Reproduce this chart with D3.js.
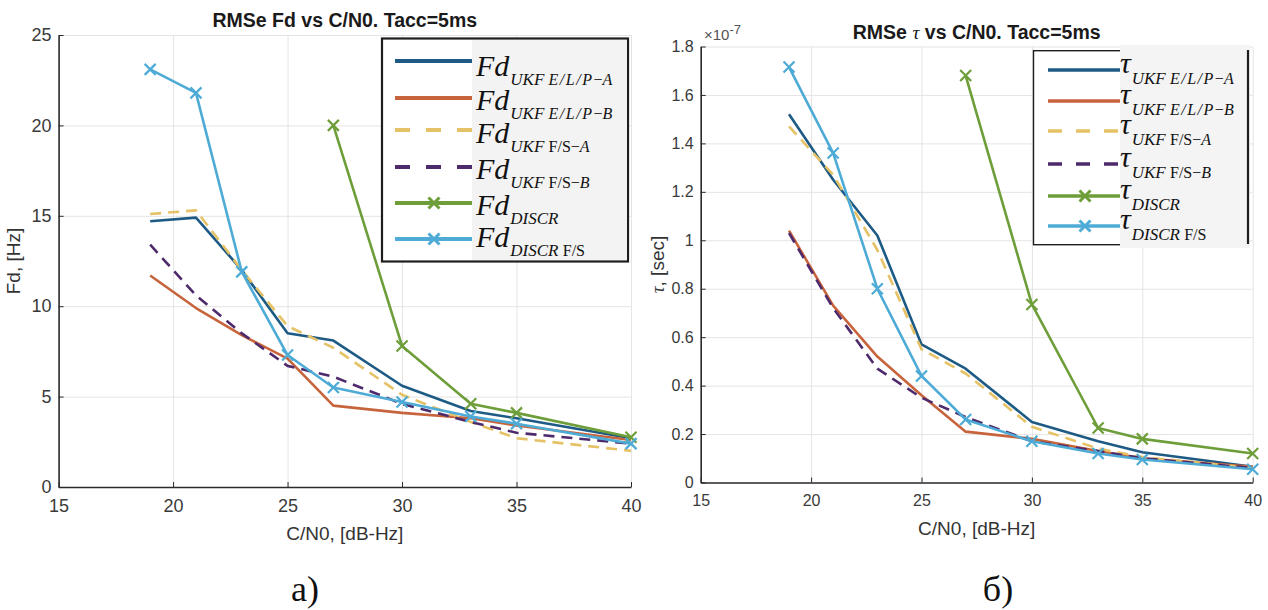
<!DOCTYPE html>
<html>
<head>
<meta charset="utf-8">
<script src="https://cdn.jsdelivr.net/npm/d3@7"></script>
<style>
  body { margin: 0; background: #fff; }
  svg { display: block; }
  .tick text { fill: #3a3a3a; font-family: "Liberation Sans", Arial, sans-serif; }
</style>
</head>
<body>
<svg id="chart" width="1268" height="610"></svg>
<script>
// C/N0 points, dB-Hz
const snr = [19, 21, 23, 25, 27, 30, 33, 35, 40];
const snrDiscr = [27, 30, 33, 35, 40];

// Doppler RMSE, Hz
const fdUkfElpA = [14.7, 14.9, 12.0, 8.5, 8.1, 5.6, 4.2, 3.8, 2.7];
const fdUkfElpB = [11.7, 9.9, 8.4, 7.1, 4.5, 4.1, 3.8, 3.4, 2.6];
const fdUkfFsA  = [15.1, 15.3, 12.0, 8.9, 7.7, 5.1, 3.6, 2.7, 2.0];
const fdUkfFsB  = [13.4, 10.6, 8.5, 6.7, 6.1, 4.6, 3.6, 3.0, 2.4];
const fdDiscr   = [20.0, 7.8, 4.6, 4.1, 2.75];
const fdDiscrFs = [23.1, 21.8, 11.9, 7.3, 5.5, 4.7, 3.9, 3.5, 2.4];

// Code delay RMSE, x1e-7 s
const tauUkfElpA = [1.52, 1.25, 1.02, 0.57, 0.47, 0.25, 0.17, 0.125, 0.065];
const tauUkfElpB = [1.04, 0.73, 0.52, 0.36, 0.21, 0.18, 0.13, 0.10, 0.065];
const tauUkfFsA  = [1.47, 1.27, 0.96, 0.55, 0.45, 0.23, 0.14, 0.105, 0.06];
const tauUkfFsB  = [1.03, 0.72, 0.47, 0.35, 0.27, 0.17, 0.13, 0.10, 0.06];
const tauDiscr   = [1.68, 0.735, 0.225, 0.18, 0.12];
const tauDiscrFs = [1.715, 1.36, 0.80, 0.44, 0.26, 0.17, 0.12, 0.095, 0.055];

const xTicks = [15, 20, 25, 30, 35, 40];
const fdTicks = [0, 5, 10, 15, 20, 25];
const tauTicks = [0, 0.2, 0.4, 0.6, 0.8, 1, 1.2, 1.4, 1.6, 1.8];

const colors = {
  elpA: "#1d5a84",
  elpB: "#c8643c",
  fsA: "#e6c266",
  fsB: "#4d2a6c",
  discr: "#6e9e3a",
  discrFs: "#4dabd6"
};

const svg = d3.select("#chart");
const FONT = "'Liberation Sans', Arial, sans-serif";
const SERIF = "'Liberation Serif', 'Times New Roman', serif";

function xMark(g, x, y, r, color, w) {
  g.append("path")
    .attr("d", `M${x - r},${y - r}L${x + r},${y + r}M${x - r},${y + r}L${x + r},${y - r}`)
    .attr("stroke", color).attr("stroke-width", w).attr("fill", "none");
}

function drawPanel(cfg) {
  const g = svg.append("g");
  const x = d3.scaleLinear().domain([15, 40]).range([cfg.left, cfg.right]);
  const y = d3.scaleLinear().domain(cfg.yDomain).range([cfg.bottom, cfg.top]);
  const w = cfg.right - cfg.left, h = cfg.bottom - cfg.top;

  // grid
  g.append("g").attr("transform", `translate(0,${cfg.bottom})`)
    .call(d3.axisBottom(x).tickValues(xTicks).tickSize(-h).tickFormat(""))
    .call(a => a.select(".domain").remove())
    .selectAll("line").attr("stroke", "#e4e4e4").attr("stroke-width", 1);
  g.append("g").attr("transform", `translate(${cfg.left},0)`)
    .call(d3.axisLeft(y).tickValues(cfg.yTicks).tickSize(-w).tickFormat(""))
    .call(a => a.select(".domain").remove())
    .selectAll("line").attr("stroke", "#e4e4e4").attr("stroke-width", 1);

  // series
  const line = d3.line().x(d => x(d[0])).y(d => y(d[1]));
  cfg.series.forEach(s => {
    const pts = s.xs.map((v, i) => [v, s.ys[i]]);
    g.append("path").datum(pts)
      .attr("d", line)
      .attr("fill", "none")
      .attr("stroke", s.color)
      .attr("stroke-width", 2.6)
      .attr("stroke-linejoin", "round")
      .attr("stroke-dasharray", s.dash || null);
    if (s.marker) pts.forEach(p => xMark(g, x(p[0]), y(p[1]), 5.5, s.color, 2.2));
  });

  // axes
  const ax = g.append("g").attr("transform", `translate(0,${cfg.bottom})`)
    .call(d3.axisBottom(x).tickValues(xTicks).tickSizeInner(-5).tickSizeOuter(0).tickPadding(12));
  ax.selectAll("text").attr("font-size", cfg.tickSize).attr("font-family", FONT);
  const ay = g.append("g").attr("transform", `translate(${cfg.left},0)`)
    .call(d3.axisLeft(y).tickValues(cfg.yTicks).tickSizeInner(-5).tickSizeOuter(0).tickPadding(7)
      .tickFormat(d3.format("~g")));
  ay.selectAll("text").attr("font-size", cfg.tickSize).attr("font-family", FONT);
  [ax, ay].forEach(a => {
    a.select(".domain").attr("stroke", "#2b2b2b").attr("stroke-width", 1.6);
    a.selectAll(".tick line").attr("stroke", "#2b2b2b");
  });

  // title
  const t = g.append("text")
    .attr("x", (cfg.left + cfg.right) / 2).attr("y", cfg.titleY)
    .attr("text-anchor", "middle").attr("font-family", FONT)
    .attr("font-size", 19.5).attr("font-weight", "bold").attr("fill", "#1a1a1a");
  cfg.title.forEach(p => t.append("tspan").text(p.t)
    .attr("font-style", p.i ? "italic" : null)
    .attr("font-weight", p.i ? "normal" : null)
    .attr("font-family", p.i ? SERIF : null));

  // axis labels
  g.append("text")
    .attr("x", (cfg.left + cfg.right) / 2).attr("y", cfg.xLabelY)
    .attr("text-anchor", "middle").attr("font-family", FONT)
    .attr("font-size", 19).attr("fill", "#333").text("C/N0, [dB-Hz]");
  const yl = g.append("text")
    .attr("transform", `translate(${cfg.yLabelX},${(cfg.top + cfg.bottom) / 2}) rotate(-90)`)
    .attr("text-anchor", "middle").attr("font-family", FONT)
    .attr("font-size", 19).attr("fill", "#333");
  cfg.yLabel.forEach(p => yl.append("tspan").text(p.t)
    .attr("font-style", p.i ? "italic" : null)
    .attr("font-family", p.i ? SERIF : null));

  // panel caption
  svg.append("text")
    .attr("x", cfg.captionX).attr("y", 601)
    .attr("text-anchor", "middle").attr("font-family", SERIF)
    .attr("font-size", 36).attr("fill", "#111").text(cfg.caption);

  return { g, x, y };
}

// legend entry text: main symbol + subscript parts
function legendText(g, x, yBase, main, mainSize, subDy, parts) {
  const t = g.append("text").attr("x", x).attr("y", yBase)
    .attr("font-family", SERIF).attr("fill", "#111");
  t.append("tspan").text(main).attr("font-style", "italic").attr("font-size", mainSize);
  parts.forEach((p, i) => {
    const ts = t.append("tspan").text(p.t)
      .attr("font-size", p.s)
      .attr("letter-spacing", p.ls || null)
      .attr("font-style", p.i ? "italic" : "normal");
    if (i === 0) ts.attr("dy", subDy).attr("dx", 1);
  });
}

const legendSubs = [
  [{ t: "UKF ", i: true, s: 17 }, { t: "E/L/P", i: true, s: 16, ls: 1.5 }, { t: "−", s: 16 }, { t: "A", i: true, s: 16 }],
  [{ t: "UKF ", i: true, s: 17 }, { t: "E/L/P", i: true, s: 16, ls: 1.5 }, { t: "−", s: 16 }, { t: "B", i: true, s: 16 }],
  [{ t: "UKF ", i: true, s: 17 }, { t: "F/S", s: 16 }, { t: "−", s: 16 }, { t: "A", i: true, s: 16 }],
  [{ t: "UKF ", i: true, s: 17 }, { t: "F/S", s: 16 }, { t: "−", s: 16 }, { t: "B", i: true, s: 16 }],
  [{ t: "DISCR", i: true, s: 17 }],
  [{ t: "DISCR ", i: true, s: 17 }, { t: "F/S", s: 16 }]
];

function seriesList(ys) {
  return [
    { ys: ys[0], xs: snr, color: colors.elpA },
    { ys: ys[1], xs: snr, color: colors.elpB },
    { ys: ys[2], xs: snr, color: colors.fsA, dash: "11,7" },
    { ys: ys[3], xs: snr, color: colors.fsB, dash: "11,7" },
    { ys: ys[4], xs: snrDiscr, color: colors.discr, marker: true },
    { ys: ys[5], xs: snr, color: colors.discrFs, marker: true }
  ];
}

// ---- panel a): Doppler ----
drawPanel({
  left: 58.6, right: 631, top: 35, bottom: 487,
  yDomain: [0, 25], yTicks: fdTicks, tickSize: 18,
  title: [{ t: "RMSe Fd vs C/N0. Tacc=5ms" }], titleY: 27,
  yLabel: [{ t: "Fd, [Hz]" }], yLabelX: 20, xLabelY: 540,
  captionX: 305, caption: "a)",
  series: seriesList([fdUkfElpA, fdUkfElpB, fdUkfFsA, fdUkfFsB, fdDiscr, fdDiscrFs])
});

// ---- panel б): code delay ----
drawPanel({
  left: 700.7, right: 1252.7, top: 46.5, bottom: 482.5,
  yDomain: [0, 1.8], yTicks: tauTicks, tickSize: 16,
  title: [{ t: "RMSe " }, { t: "τ", i: true }, { t: " vs C/N0. Tacc=5ms" }], titleY: 38.5,
  yLabel: [{ t: "τ", i: true }, { t: ", [sec]" }], yLabelX: 664, xLabelY: 535,
  captionX: 998, caption: "б)",
  series: seriesList([tauUkfElpA, tauUkfElpB, tauUkfFsA, tauUkfFsB, tauDiscr, tauDiscrFs])
});

// exponent label
const ex = svg.append("text").attr("x", 704).attr("y", 40)
  .attr("font-family", FONT).attr("font-size", 15).attr("fill", "#555");
ex.append("tspan").text("×10");
ex.append("tspan").text("-7").attr("dy", -6).attr("font-size", 13);

// ---- legend a) ----
{
  const g = svg.append("g");
  g.append("rect").attr("x", 382).attr("y", 38.5).attr("width", 246).attr("height", 223)
    .attr("fill", "#fff").attr("stroke", "#1e1e1e").attr("stroke-width", 2.2);
  g.append("rect").attr("x", 472).attr("y", 40).attr("width", 155).attr("height", 220).attr("fill", "#f3f3f3");
  g.append("clipPath").attr("id", "legA").append("rect")
    .attr("x", 383).attr("y", 39).attr("width", 244).attr("height", 221);
  const rows = [61, 98, 130, 167, 203, 239];
  const textBase = [76, 110, 143, 179, 215, 247];
  const ss = seriesList([[], [], [], [], [], []]);
  const tg = g.append("g").attr("clip-path", "url(#legA)");
  rows.forEach((ry, i) => {
    const s = ss[i];
    g.append("line").attr("x1", 395).attr("x2", 472).attr("y1", ry).attr("y2", ry)
      .attr("stroke", s.color).attr("stroke-width", 4)
      .attr("stroke-dasharray", s.dash ? "15,16" : null);
    if (s.marker) xMark(g, 434, ry, 5.5, s.color, 3);
    legendText(tg, 476, textBase[i], "Fd", 30, 9, legendSubs[i]);
  });
}

// ---- legend б) ----
{
  const g = svg.append("g");
  g.append("rect").attr("x", 1033.5).attr("y", 50.7).attr("width", 100).attr("height", 194)
    .attr("fill", "#fff").attr("stroke", "#1e1e1e").attr("stroke-width", 1.4);
  g.append("rect").attr("x", 1120).attr("y", 45).attr("width", 130).attr("height", 203).attr("fill", "#f4f4f4");
  g.append("line").attr("x1", 1248).attr("x2", 1248).attr("y1", 50).attr("y2", 244)
    .attr("stroke", "#1e1e1e").attr("stroke-width", 2.2);
  const rows = [70, 101, 131, 164, 196, 226];
  const ss = seriesList([[], [], [], [], [], []]);
  rows.forEach((ry, i) => {
    const s = ss[i];
    g.append("line").attr("x1", 1048).attr("x2", 1120).attr("y1", ry).attr("y2", ry)
      .attr("stroke", s.color).attr("stroke-width", 3.5)
      .attr("stroke-dasharray", s.dash ? "14,14" : null);
    if (s.marker) xMark(g, 1085, ry, 5.5, s.color, 3);
    legendText(g, 1120, ry + 3, "τ", 30, 11, legendSubs[i]);
  });
}
</script>
</body>
</html>
